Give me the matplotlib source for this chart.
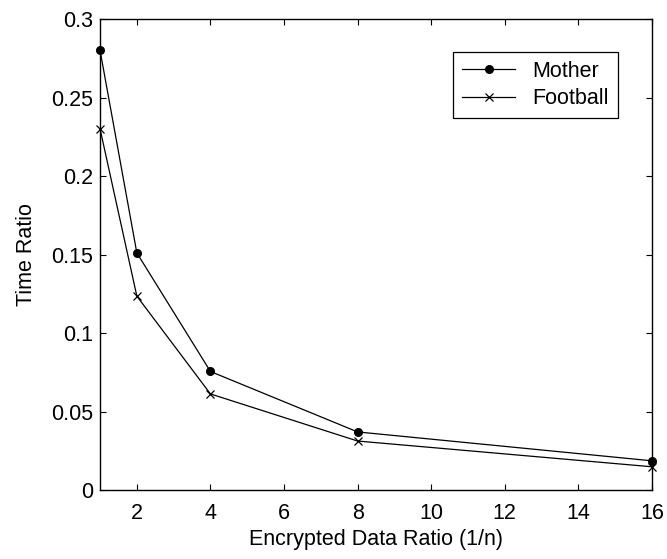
import matplotlib
matplotlib.use("Agg")
import matplotlib.pyplot as plt

# data
ratio_n = [1, 2, 4, 8, 16]
mother = [0.280, 0.151, 0.0755, 0.037, 0.0186]
football = [0.230, 0.1235, 0.0612, 0.0312, 0.0148]

xticks = [2, 4, 6, 8, 10, 12, 14, 16]
yticks = [0, 0.05, 0.1, 0.15, 0.2, 0.25, 0.3]
ytick_labels = ["0", "0.05", "0.1", "0.15", "0.2", "0.25", "0.3"]

plt.rcParams["font.family"] = ["Liberation Sans", "DejaVu Sans"]
fs = 15.5

fig = plt.figure(figsize=(6.67, 5.59), dpi=100)
ax = fig.add_axes([0.150, 0.1234, 0.8275, 0.8426])

ax.plot(ratio_n, mother, color="black", lw=0.9, marker="o", ms=5.5,
        label="Mother", clip_on=False)
ax.plot(ratio_n, football, color="black", lw=0.9, marker="x", ms=6,
        mew=0.9, label="Football", clip_on=False)

ax.set_xlim(1, 16)
ax.set_ylim(0, 0.3)
ax.set_xticks(xticks)
ax.set_yticks(yticks)
ax.set_yticklabels(ytick_labels)
ax.tick_params(direction="in", top=True, right=True, length=4, width=0.8,
               labelsize=fs)
ax.tick_params(axis="x", pad=9)
ax.tick_params(axis="y", pad=5)
for s in ax.spines.values():
    s.set_linewidth(1.0)

ax.set_xlabel("Encrypted Data Ratio (1/n)", fontsize=fs, labelpad=4)
ax.set_ylabel("Time Ratio", fontsize=fs, labelpad=10)

leg = ax.legend(loc="upper right", bbox_to_anchor=(0.938, 0.930),
                borderaxespad=0, fancybox=False, framealpha=1,
                edgecolor="black", handlelength=2.5, borderpad=0.4,
                labelspacing=0.3, handletextpad=0.8, fontsize=fs)
leg.get_frame().set_linewidth(0.9)

fig.savefig("out.png", dpi=100)
